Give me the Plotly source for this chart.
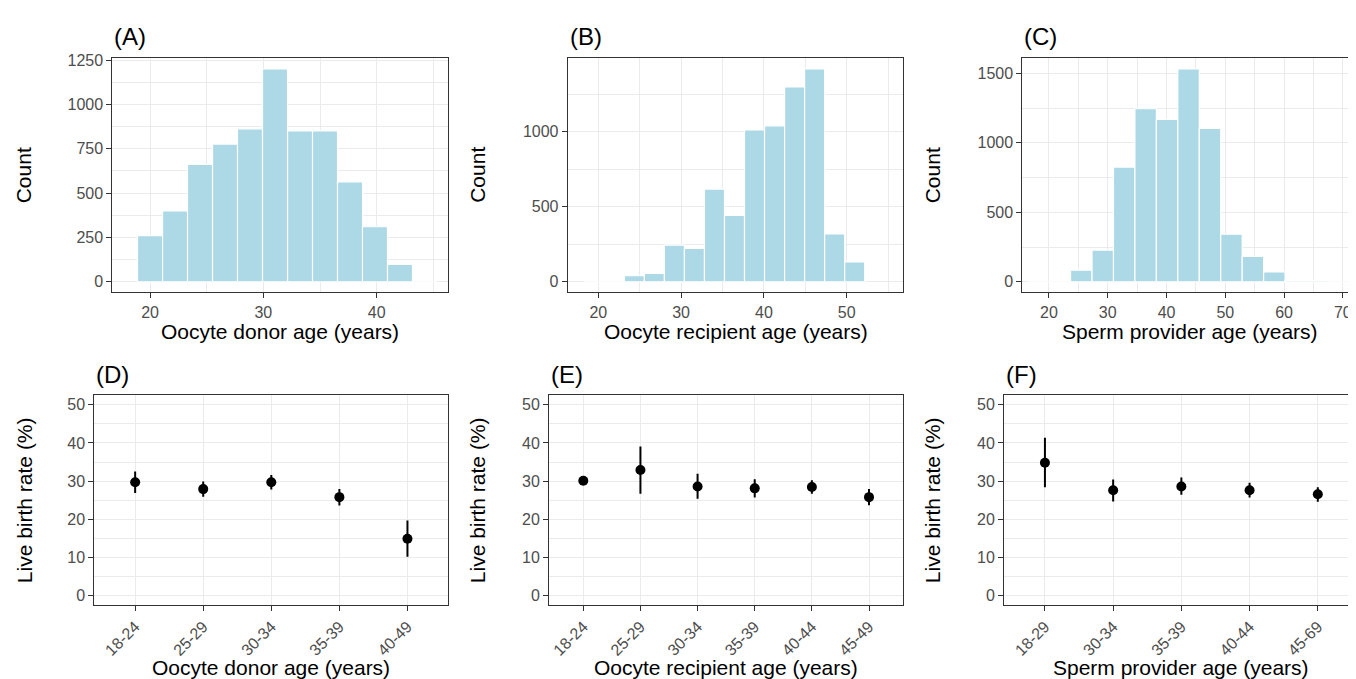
import plotly.graph_objects as go

# ---------------- data ----------------
donor_bin_centers = [20.0, 22.21, 24.41, 26.62, 28.82, 31.03, 33.24, 35.44, 37.65, 39.85, 42.06, 44.27]
donor_counts = [260, 399, 661, 776, 862, 1200, 851, 851, 563, 310, 98, 0]
donor_bin_width = 2.206

recipient_bin_centers = [19.5, 21.9, 24.35, 26.77, 29.19, 31.61, 34.03, 36.45, 38.87, 41.29, 43.71, 46.13, 48.55, 50.97]
recipient_counts = [0, 0, 40, 55, 244, 222, 618, 442, 1013, 1040, 1299, 1420, 319, 132]
recipient_bin_width = 2.42

sperm_bin_centers = [18.2, 21.85, 25.5, 29.15, 32.8, 36.45, 40.1, 43.75, 47.4, 51.05, 54.7, 58.35, 62.0, 65.65, 69.3, 72.95]
sperm_counts = [0, 0, 83, 228, 826, 1246, 1170, 1533, 1104, 342, 183, 71, 10, 10, 0, 0]
sperm_bin_width = 3.65

donor_groups = ["18-24", "25-29", "30-34", "35-39", "40-49"]
donor_rate = [29.7, 27.9, 29.7, 25.8, 14.9]
donor_lower = [26.9, 25.9, 27.8, 23.6, 10.2]
donor_upper = [32.5, 29.9, 31.6, 27.9, 19.7]

recipient_groups = ["18-24", "25-29", "30-34", "35-39", "40-44", "45-49"]
recipient_rate = [30.1, 32.9, 28.6, 28.1, 28.45, 25.8]
recipient_lower = [29.2, 26.7, 25.4, 25.7, 26.7, 23.7]
recipient_upper = [31.0, 39.1, 31.9, 30.5, 30.2, 27.9]

sperm_groups = ["18-29", "30-34", "35-39", "40-44", "45-69"]
sperm_rate = [34.8, 27.6, 28.6, 27.6, 26.55]
sperm_lower = [28.4, 24.65, 26.4, 25.7, 24.6]
sperm_upper = [41.4, 30.4, 30.95, 29.6, 28.4]

panel_tags = ["(A)", "(B)", "(C)", "(D)", "(E)", "(F)"]
x_titles = ["Oocyte donor age (years)", "Oocyte recipient age (years)", "Sperm provider age (years)"]
y_title_top = "Count"
y_title_bottom = "Live birth rate (%)"

# ---------------- styling ----------------
FONT = "Liberation Sans, Arial, sans-serif"
BAR_FILL = "#ADD8E6"
GRID = "#EBEBEB"
LINE = "#333333"
TICKTXT = "#4D4D4D"
OFF = 8                      # page body margin of the html page
W, H = 1356 - OFF, 679 - OFF

fig = go.Figure()

hists = [
    (donor_bin_centers, donor_counts, donor_bin_width, "x", "y"),
    (recipient_bin_centers, recipient_counts, recipient_bin_width, "x2", "y2"),
    (sperm_bin_centers, sperm_counts, sperm_bin_width, "x3", "y3"),
]
for cx, cnt, bw, xa, ya in hists:
    fig.add_trace(go.Bar(
        x=cx, y=cnt, width=bw,
        marker=dict(color=BAR_FILL, line=dict(color="white", width=1.2)),
        xaxis=xa, yaxis=ya, hoverinfo="x+y",
    ))

points = [
    (donor_groups, donor_rate, donor_lower, donor_upper, "x4", "y4"),
    (recipient_groups, recipient_rate, recipient_lower, recipient_upper, "x5", "y5"),
    (sperm_groups, sperm_rate, sperm_lower, sperm_upper, "x6", "y6"),
]
for g, r, lo, up, xa, ya in points:
    fig.add_trace(go.Scatter(
        x=g, y=r, mode="markers",
        marker=dict(color="black", size=10),
        error_y=dict(type="data", symmetric=False,
                     array=[u - v for u, v in zip(up, r)],
                     arrayminus=[v - l for v, l in zip(r, lo)],
                     color="black", thickness=2, width=0),
        xaxis=xa, yaxis=ya,
    ))


def ax(mirror=True, **kw):
    d = dict(showline=True, linecolor=LINE, linewidth=1, mirror=mirror,
             ticks="outside", ticklen=5, tickcolor=LINE, tickwidth=1,
             tickfont=dict(size=16, color=TICKTXT, family=FONT),
             showgrid=True, gridcolor=GRID, gridwidth=1.3, zeroline=False,
             fixedrange=True)
    d.update(kw)
    return d


def minor(dt, t0=0):
    return dict(dtick=dt, tick0=t0, showgrid=True, gridcolor=GRID, gridwidth=0.7, ticks="")


def px(v):
    return min(1.0, (v - OFF) / W)


def py(v):
    return 1 - (v - OFF) / H


top = [py(288.3), py(51.7)]
bot = [py(604.3), py(392.3)]

colA = [px(112.3), px(448.3)]
colB = [px(567.7), px(903.3)]
colC = [px(1022.3), 1.0]
colD = [px(94.3), px(448.3)]
colE = [px(549.0), px(903.3)]
colF = [px(1004.0), 1.0]

fig.update_layout(
    width=W, height=H,
    margin=dict(l=0, r=0, t=0, b=0),
    paper_bgcolor="white", plot_bgcolor="white",
    showlegend=False,
    font=dict(family=FONT, color="black"),
    xaxis=ax(domain=colA, anchor="y", range=[16.67, 46.32], tick0=0, dtick=10, minor=minor(5)),
    yaxis=ax(domain=top, anchor="x", range=[-60, 1260], tick0=0, dtick=250, minor=minor(125)),
    xaxis2=ax(domain=colB, anchor="y2", range=[16.3, 56.84], tick0=0, dtick=10, minor=minor(5)),
    yaxis2=ax(domain=top, anchor="x2", range=[-71, 1491], tick0=0, dtick=500, minor=minor(250)),
    xaxis3=ax(domain=colC, anchor="y3", range=[15.46, 72.24], tick0=0, dtick=10, minor=minor(5)),
    yaxis3=ax(mirror=False, domain=top, anchor="x3", range=[-76.6, 1609.6], tick0=0, dtick=500, minor=minor(250)),
    xaxis4=ax(domain=colD, anchor="y4", type="category", categoryorder="array",
              categoryarray=donor_groups, range=[-0.6, 4.6], tickangle=-45),
    yaxis4=ax(domain=bot, anchor="x4", range=[-2.5, 52.5], tick0=0, dtick=10, minor=minor(5)),
    xaxis5=ax(domain=colE, anchor="y5", type="category", categoryorder="array",
              categoryarray=recipient_groups, range=[-0.6, 5.6], tickangle=-45),
    yaxis5=ax(domain=bot, anchor="x5", range=[-2.5, 52.5], tick0=0, dtick=10, minor=minor(5)),
    xaxis6=ax(domain=colF, anchor="y6", type="category", categoryorder="array",
              categoryarray=sperm_groups, range=[-0.6, 4.56], tickangle=-45),
    yaxis6=ax(mirror=False, domain=bot, anchor="x6", range=[-2.5, 52.5], tick0=0, dtick=10, minor=minor(5)),
)

ann = []
tag_pos = [(112.3, 30), (567.7, 30), (1022.3, 30), (94.3, 371), (549.0, 371), (1004.0, 371)]
for t, (x, y) in zip(panel_tags, tag_pos):
    ann.append(dict(text=t, x=px(x), y=py(y), xref="paper", yref="paper",
                    xanchor="left", yanchor="middle", showarrow=False,
                    font=dict(size=24, family=FONT, color="black")))

# x titles
for i, (a, b) in enumerate([(112.3, 448.3), (567.7, 903.3), (1022.3, 1358)]):
    ann.append(dict(text=x_titles[i], x=((a + b) / 2 - OFF) / W, y=py(327.5), xref="paper", yref="paper",
                    xanchor="center", yanchor="middle", showarrow=False,
                    font=dict(size=21, family=FONT, color="black")))
for i, (a, b) in enumerate([(94.3, 448.3), (549.0, 903.3), (1004.0, 1358.7)]):
    ann.append(dict(text=x_titles[i], x=((a + b) / 2 - OFF) / W, y=py(667), xref="paper", yref="paper",
                    xanchor="center", yanchor="middle", showarrow=False,
                    font=dict(size=21, family=FONT, color="black")))

# y titles
for x in [23, 477.5, 932]:
    ann.append(dict(text=y_title_top, x=px(x), y=py(170), xref="paper", yref="paper",
                    xanchor="center", yanchor="middle", textangle=-90, showarrow=False,
                    font=dict(size=21, family=FONT, color="black")))
for x in [24, 477, 932]:
    ann.append(dict(text=y_title_bottom, x=px(x), y=py(498.3), xref="paper", yref="paper",
                    xanchor="center", yanchor="middle", textangle=-90, showarrow=False,
                    font=dict(size=21, family=FONT, color="black")))

fig.update_layout(annotations=ann)

fig.write_html("out.html")
